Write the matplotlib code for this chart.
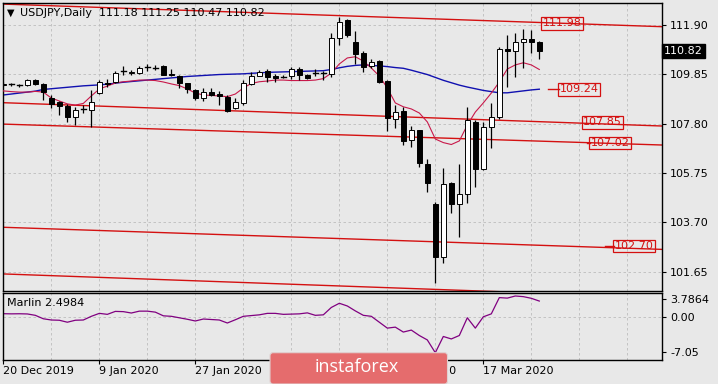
import matplotlib
matplotlib.use('Agg')
import matplotlib.pyplot as plt
from matplotlib.patches import Rectangle, FancyBboxPatch
from matplotlib.transforms import IdentityTransform, blended_transform_factory

# ---------------- data ----------------
opens = [109.42, 109.42, 109.38, 109.42, 109.61, 109.45, 108.88, 108.71, 108.53, 108.06,
         108.39, 108.37, 109.09, 109.50, 109.54, 109.95, 109.90, 109.89, 110.12, 110.11,
         110.20, 109.86, 109.78, 109.48, 109.20, 108.85, 109.13, 109.03, 108.92, 108.44,
         108.64, 109.45, 109.79, 109.99, 109.78, 109.76, 109.78, 110.06, 109.82, 109.88,
         109.88, 109.86, 111.35, 112.11, 111.21, 110.72, 110.20, 110.40, 109.57, 107.98,
         108.34, 107.12, 107.53, 106.12, 104.46, 102.27, 105.32, 104.46, 104.87, 107.85,
         105.90, 107.65, 108.06, 110.89, 110.82, 111.21, 111.31, 111.18]
highs = [109.52, 109.50, 109.46, 109.66, 109.64, 109.50, 108.99, 108.75, 108.60, 108.50,
         108.57, 109.20, 109.61, 109.65, 110.00, 110.20, 110.03, 110.20, 110.27, 110.23,
         110.24, 110.08, 109.83, 109.50, 109.24, 109.27, 109.27, 109.17, 108.99, 108.85,
         109.61, 109.96, 110.02, 110.07, 109.86, 109.82, 110.14, 110.14, 109.85, 110.09,
         110.00, 111.58, 112.22, 112.14, 111.66, 110.83, 110.47, 110.45, 109.62, 108.57,
         108.50, 107.71, 107.55, 106.32, 104.55, 105.94, 105.39, 106.12, 108.48, 107.95,
         107.87, 108.64, 111.00, 111.48, 111.58, 111.72, 111.69, 111.25]
lows = [109.36, 109.37, 109.33, 109.38, 109.42, 108.80, 108.46, 108.16, 107.85, 107.73,
        108.23, 107.65, 109.02, 109.33, 109.50, 109.82, 109.81, 109.85, 109.99, 110.02,
        109.80, 109.78, 109.27, 109.06, 108.78, 108.75, 108.95, 108.57, 108.30, 108.39,
        108.57, 109.40, 109.76, 109.54, 109.54, 109.68, 109.64, 109.61, 109.65, 109.78,
        109.61, 109.75, 111.07, 111.40, 110.28, 109.96, 110.13, 109.50, 107.51, 107.60,
        106.91, 106.84, 105.98, 104.97, 101.16, 102.02, 104.07, 103.07, 104.51, 105.15,
        105.85, 106.77, 107.98, 109.31, 109.73, 110.10, 110.75, 110.47]
closes = [109.45, 109.44, 109.40, 109.61, 109.45, 109.10, 108.60, 108.55, 108.09, 108.37,
          108.41, 108.71, 109.54, 109.43, 109.92, 109.97, 109.93, 110.12, 110.14, 110.13,
          109.82, 109.80, 109.48, 109.23, 108.85, 109.13, 108.99, 108.96, 108.34, 108.71,
          109.50, 109.78, 109.96, 109.75, 109.71, 109.75, 110.07, 109.82, 109.71, 109.90,
          109.90, 111.35, 112.04, 111.48, 110.68, 110.17, 110.37, 109.54, 108.02, 108.30,
          107.09, 107.53, 106.15, 105.32, 102.27, 105.29, 104.46, 104.86, 107.95, 105.90,
          107.65, 108.06, 110.89, 110.82, 111.21, 111.31, 111.18, 110.82]

ma_slow = [108.99, 109.03, 109.07, 109.11, 109.15, 109.22, 109.25, 109.28, 109.31, 109.34,
           109.37, 109.39, 109.41, 109.44, 109.48, 109.52, 109.55, 109.58, 109.61, 109.64,
           109.67, 109.70, 109.73, 109.76, 109.78, 109.80, 109.82, 109.84, 109.85, 109.86,
           109.87, 109.89, 109.91, 109.93, 109.94, 109.95, 109.96, 109.97, 109.98, 109.99,
           110.00, 110.05, 110.12, 110.18, 110.22, 110.24, 110.22, 110.20, 110.17, 110.13,
           110.10, 110.02, 109.93, 109.84, 109.72, 109.60, 109.50, 109.40, 109.32, 109.25,
           109.18, 109.13, 109.08, 109.08, 109.12, 109.16, 109.20, 109.23]
ma_fast = [109.16, 109.13, 109.11, 109.11, 109.14, 109.11, 108.86, 108.74, 108.62, 108.57,
           108.64, 108.95, 109.24, 109.36, 109.49, 109.54, 109.57, 109.61, 109.61, 109.59,
           109.53, 109.45, 109.38, 109.24, 109.07, 108.99, 108.97, 108.95, 108.92, 109.03,
           109.28, 109.47, 109.54, 109.57, 109.61, 109.61, 109.59, 109.59, 109.59, 109.61,
           109.67, 109.90, 110.28, 110.53, 110.58, 110.40, 110.11, 109.78, 109.28, 108.66,
           108.50, 108.41, 108.24, 107.87, 107.16, 107.01, 106.93, 107.08, 107.74, 108.28,
           108.66, 109.07, 109.53, 110.07, 110.24, 110.33, 110.24, 110.05]
marlin = [0.73, 0.70, 0.72, 0.68, 0.40, -0.30, -0.55, -0.60, -1.00, -0.60,
          -0.55, 0.20, 0.80, 0.60, 1.20, 1.15, 0.87, 1.25, 1.25, 1.05,
          0.30, 0.20, -0.10, -0.40, -0.75, -0.35, -0.45, -0.55, -1.16, -0.50,
          0.20, 0.35, 0.50, 0.80, 0.80, 0.60, 0.65, 0.70, 0.90, 0.40,
          0.50, 2.00, 2.85, 2.30, 1.30, 0.40, 0.20, -1.00, -2.20, -2.00,
          -3.00, -2.60, -3.70, -4.60, -7.20, -3.90, -4.40, -3.70, -0.10, -2.20,
          0.10, 0.70, 4.00, 3.90, 4.33, 4.20, 3.86, 3.30]

# channel lines: price at left edge and at right edge of the chart
chan_left = [112.77, 108.67, 107.78, 103.49, 101.55]
chan_right = [111.83, 107.70, 106.91, 102.57, 100.57]

level_labels = ["111.98", "109.24", "107.85", "107.02", "102.70"]
level_values = [111.97, 109.22, 107.85, 106.99, 102.71]

price_ticks = [111.90, 109.85, 107.80, 105.75, 103.70, 101.65]
marlin_ticks = [3.7864, 0.00, -7.05]
marlin_tick_labels = ["3.7864", "0.00", "-7.05"]
# the 12 Feb label sits fully under the watermark in the reference, so it is left empty
date_idx = [0, 12, 24, 36, 48, 60]
date_labels = ["20 Dec 2019", "9 Jan 2020", "27 Jan 2020", "", "28 Feb 2020", "17 Mar 2020"]
title = "USDJPY,Daily  111.18 111.25 110.47 110.82"
last_price = 110.82

# ---------------- layout ----------------
W, H = 718, 384
BG = '#e8e8e8'
RED = '#d41010'
plt.rcParams['font.family'] = ['DejaVu Sans']
fig = plt.figure(figsize=(W / 100, H / 100), dpi=100)
fig.patch.set_facecolor(BG)

def fx(px):
    return px / W

def fy(py):
    return 1 - py / H

L, R = 2.7, 661.7
ax = fig.add_axes([fx(L), fy(290.7), fx(R) - fx(L), (290.7 - 2.7) / H])
axs = fig.add_axes([fx(L), fy(360), fx(R) - fx(L), (360 - 292.7) / H])

XMIN, XMAX = -0.08, 82.3
for a in (ax, axs):
    a.set_facecolor(BG)
    a.set_xlim(XMIN, XMAX)
    for s in a.spines.values():
        s.set_color('black')
        s.set_linewidth(1.0)
    a.yaxis.tick_right()
    a.tick_params(axis='y', direction='out', length=3, width=0.8, pad=3,
                  labelsize=8, colors='black')

ax.set_ylim(100.852, 112.827)
axs.set_ylim(-8.68, 5.0)

grid_kw = dict(color='#bcbcbc', lw=0.6, ls=(0, (3, 3)), zorder=0.5)
for gx in range(6, 84, 6):
    ax.axvline(gx, **grid_kw)
    axs.axvline(gx, **grid_kw)
for p in price_ticks:
    ax.axhline(p, **grid_kw)
axs.axhline(0.0, **grid_kw)

# ticks
ax.set_yticks(price_ticks)
ax.set_yticklabels([f"{p:.2f}" for p in price_ticks])
ax.set_xticks([])
axs.set_yticks(marlin_ticks)
axs.set_yticklabels(marlin_tick_labels)
axs.set_xticks(date_idx)
axs.set_xticklabels(date_labels)
axs.tick_params(axis='x', direction='out', length=3, width=0.8, pad=1.5,
                labelsize=8, colors='black')
for lbl in axs.get_xticklabels():
    lbl.set_horizontalalignment('left')

# channel lines
for pl, pr in zip(chan_left, chan_right):
    ax.plot([XMIN, XMAX], [pl, pr], color=RED, lw=1.0, zorder=2)

# moving averages
n = len(closes)
xs = list(range(n))
ax.plot(xs, ma_slow, color='#1010b0', lw=1.0, zorder=2.5)
ax.plot(xs, ma_fast, color='#c8184a', lw=0.8, zorder=2.6)

# candles
bw = 0.56
for i in range(n):
    o, h, l, c = opens[i], highs[i], lows[i], closes[i]
    ax.plot([i, i], [l, h], color='black', lw=0.9, zorder=3, solid_capstyle='butt')
    if abs(c - o) < 0.03:
        ax.plot([i - bw / 2, i + bw / 2], [c, c], color='black', lw=1.0, zorder=4)
    else:
        fc = 'white' if c > o else 'black'
        ax.add_patch(Rectangle((i - bw / 2, min(o, c)), bw, abs(c - o),
                               facecolor=fc, edgecolor='black', lw=0.7, zorder=4))

# marlin
axs.plot(xs, marlin, color='#800080', lw=0.9)

# title & labels
fig.text(fx(6.5), fy(12.5), "\u25BC", fontsize=7, va='center', ha='left', color='black')
fig.text(fx(20.5), fy(12.5), title, fontsize=8, va='center', ha='left', color='black')
fig.text(fx(7.0), fy(303.5), "Marlin 2.4984", fontsize=8, va='center', ha='left', color='black')

# level boxes
def px_to_idx(px):
    return (px - 3.3) / 8.0

box_cx = [562.2, 579.0, 602.5, 610.0, 634.0]
connectors = [None, (548, 559), None, (586.7, 590), (605, 614)]
for lab, val, cx, con in zip(level_labels, level_values, box_cx, connectors):
    if con is not None:
        ax.plot([px_to_idx(con[0]), px_to_idx(con[1])], [val, val], color=RED, lw=1.0, zorder=5)
    ax.text(px_to_idx(cx), val, lab, fontsize=8, color=RED, ha='center', va='center', zorder=6,
            bbox=dict(boxstyle='square,pad=0.12', facecolor='none', edgecolor=RED, lw=0.9))

# current price label
trans = blended_transform_factory(ax.transAxes, ax.transData)
ax.text(1.003, last_price, f"{last_price:.2f}", transform=trans, fontsize=8, color='white',
        ha='left', va='center', zorder=7, clip_on=False,
        bbox=dict(boxstyle='square,pad=0.18', facecolor='black', edgecolor='black'))

# watermark logo
logo = FancyBboxPatch((270, 0), 177.5, 384 - 352.7, boxstyle='round,pad=0,rounding_size=3',
                      transform=IdentityTransform(), facecolor='#e56c6d', edgecolor='#e0d0d0',
                      lw=0.8, zorder=20)
fig.add_artist(logo)
fig.text(fx(357.0), fy(367.5), "instaforex", fontsize=13, color='white', ha='center',
         va='center', family=['Open Sans', 'DejaVu Sans'], zorder=21)

fig.savefig('out.png', dpi=100, facecolor=BG)
